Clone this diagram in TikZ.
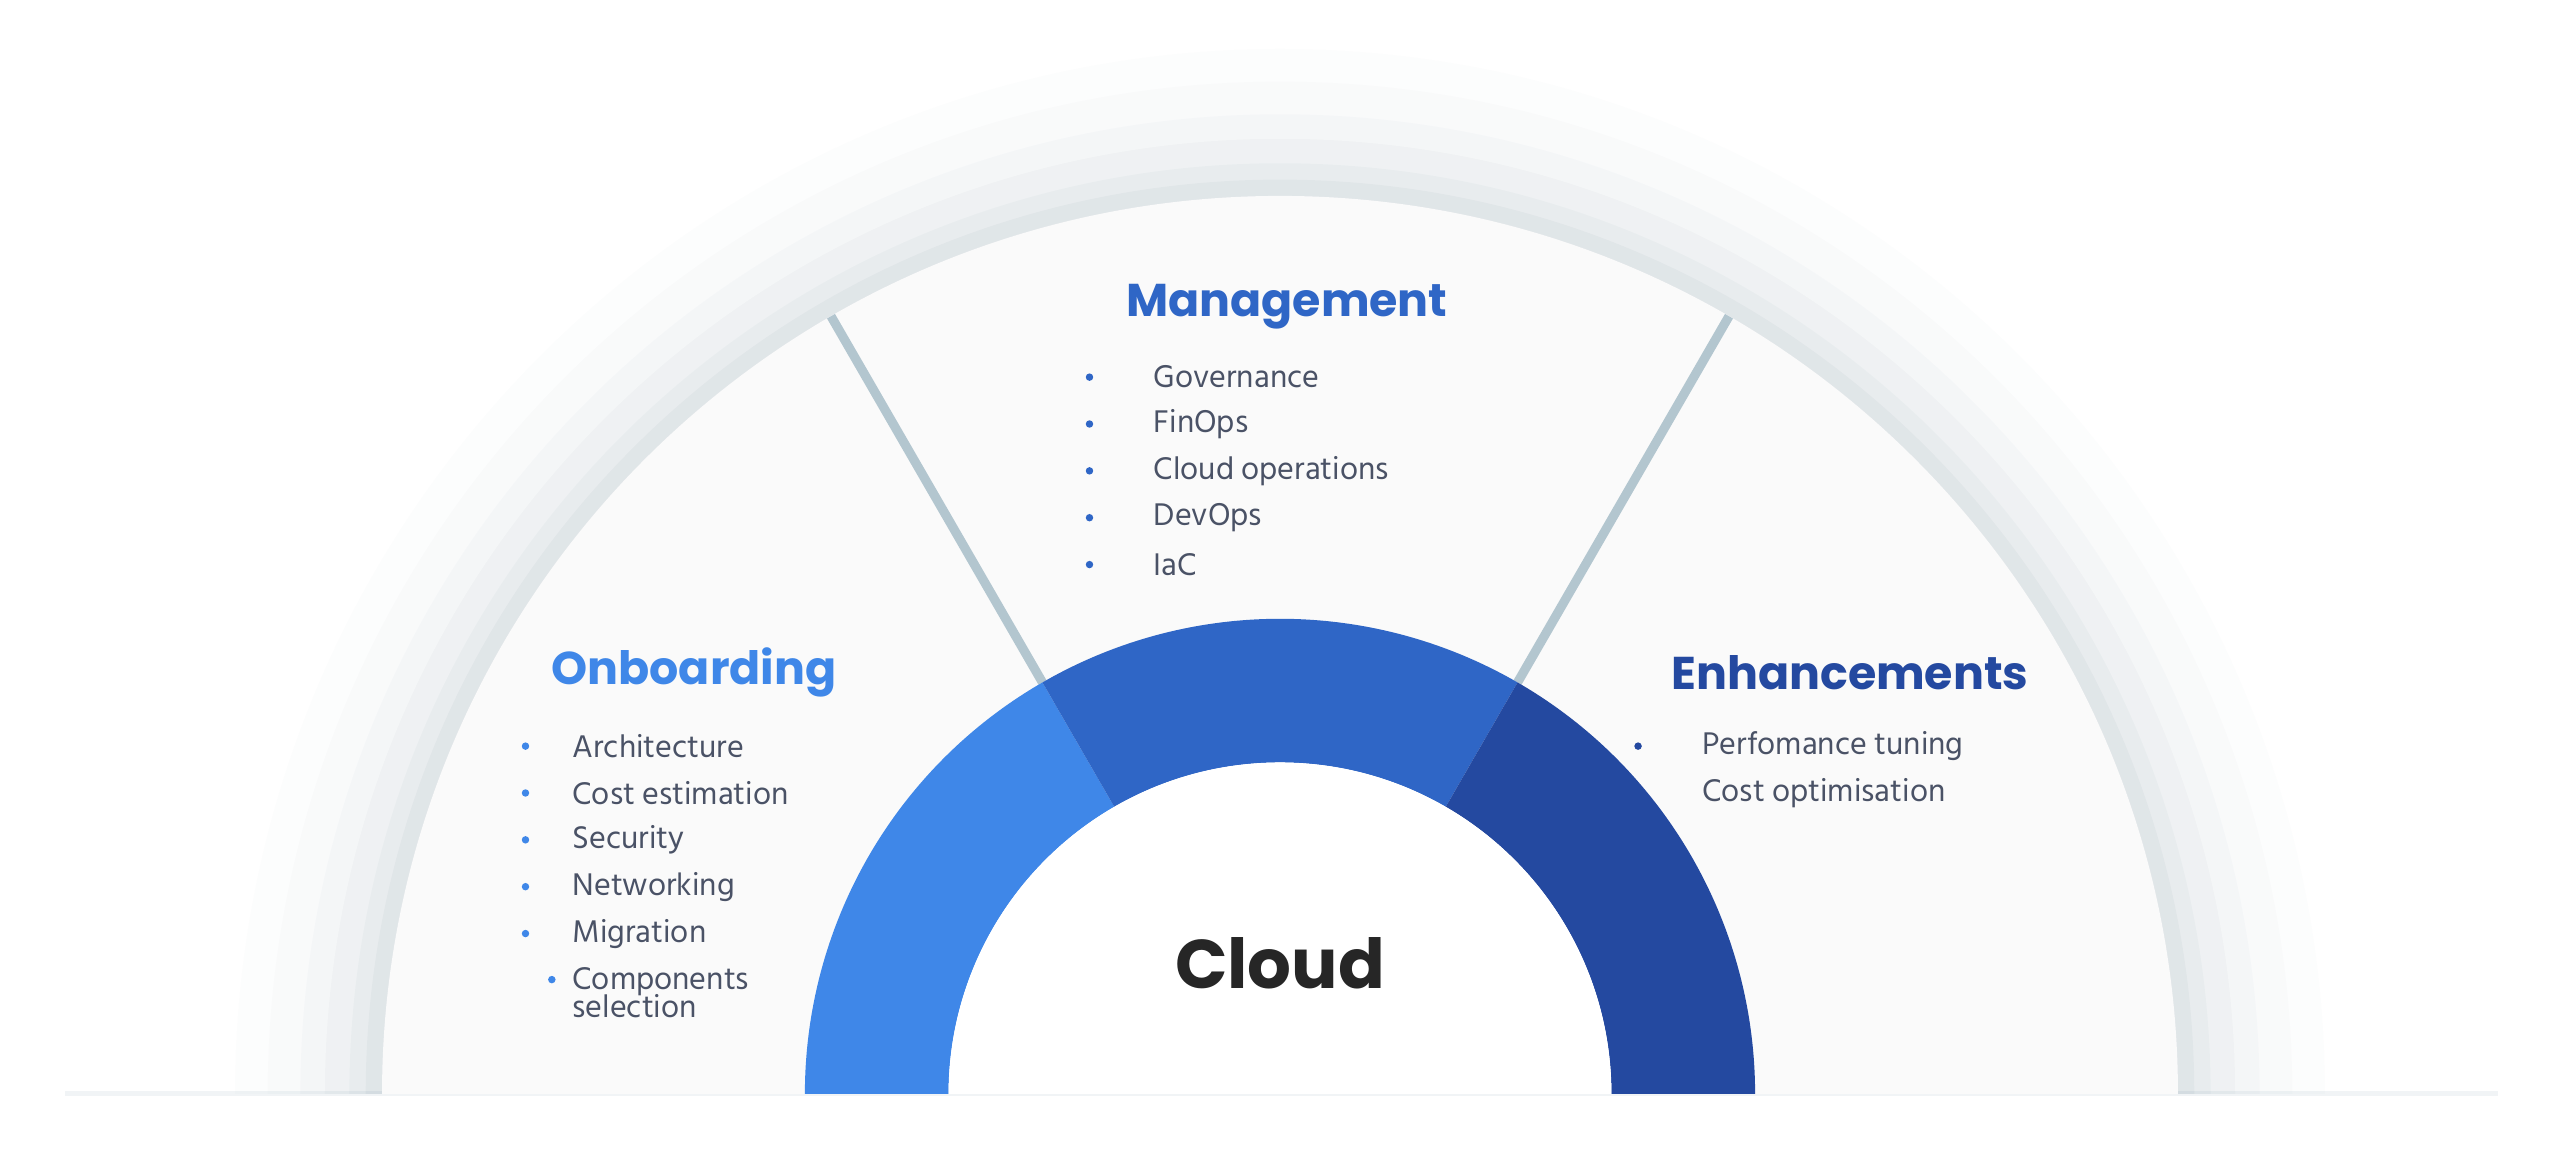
\documentclass[tikz,border=0pt]{standalone}
\usepackage{fontspec}
\setmainfont{Hind Siliguri}
\newfontfamily\headfont{Poppins}
\usetikzlibrary{positioning,calc}

\definecolor{onbblue}{HTML}{3F87E8}
\definecolor{mgtblue}{HTML}{2F66C6}
\definecolor{enhblue}{HTML}{2449A0}
\definecolor{itemgray}{HTML}{4A5266}
\definecolor{dividergray}{HTML}{B3C6CF}
\definecolor{panelwhite}{HTML}{FAFAFA}

\tikzset{
  heading/.style={font=\headfont\bfseries\fontsize{8}{9}\selectfont, anchor=west, inner sep=0pt},
  item/.style={font=\fontsize{5.6}{6.4}\selectfont, text=itemgray, anchor=west, inner sep=0pt, align=left},
  dot/.style={circle, inner sep=0pt, minimum size=1.3pt},
}

\begin{document}
\begin{tikzpicture}[x=0.01cm,y=0.01cm]
        \useasboundingbox (0,0) rectangle (1568,711);
        \coordinate (centre) at (784,41);

            % soft glow around the half disc
            \foreach \r/\o in {640/0.015,620/0.02,600/0.025,585/0.03,570/0.04,560/0.05}
              \fill[black!60!cyan, opacity=\o] ($(centre)+(-\r,0)$) arc (180:0:\r) -- cycle;
            \fill[black!50!cyan, opacity=0.08] (40,40) rectangle (1530,43);

            % panel
            \fill[panelwhite] ($(centre)+(-550,0)$) arc (180:0:550) -- cycle;
            \draw[dividergray, line width=1.6pt] ($(centre)+(120:291)$) -- ($(centre)+(120:550)$);
            \draw[dividergray, line width=1.6pt] ($(centre)+(60:291)$) -- ($(centre)+(60:550)$);

            % ring
            \fill[onbblue] ($(centre)+(180:291)$) arc (180:120:291) -- ($(centre)+(120:203)$) arc (120:180:203) -- cycle;
            \fill[mgtblue] ($(centre)+(120:291)$) arc (120:60:291) -- ($(centre)+(60:203)$) arc (60:120:203) -- cycle;
            \fill[enhblue] ($(centre)+(60:291)$) arc (60:0:291) -- ($(centre)+(0:203)$) arc (0:60:203) -- cycle;
            \fill[white] ($(centre)+(-203,0)$) arc (180:0:203) -- cycle;

            \node[font=\headfont\bfseries\fontsize{12}{14}\selectfont, text=black!85] (cloud) at (784,121) {Cloud};

            % management
            \node[heading, text=mgtblue] (mgt) at (689,523) {Management};
            \foreach \t [count=\i] in {Governance,FinOps,Cloud operations,DevOps,IaC}{
              \node[item] (mgt\i) at (706,480-28.7*\i+28.7) {\t};
              \node[dot, fill=mgtblue, left=11pt of mgt\i.west, anchor=center] {};
            }

            % onboarding
            \node[heading, text=onbblue] (onb) at (337,299) {Onboarding};
            \foreach \t [count=\i] in {Architecture,Cost estimation,Security,Networking,Migration}{
              \node[item] (onb\i) at (350,254-28.7*\i+28.7) {\t};
              \node[dot, fill=onbblue, left=8pt of onb\i.west, anchor=center] {};
            }
            \node[item, anchor=north west] (onb6) at (350,119) {Components\\[-1.5pt]selection};
            \node[dot, fill=onbblue] at (338,111) {};

            % enhancements
            \node[heading, text=enhblue] (enh) at (1023,299) {Enhancements};
            \foreach \t [count=\i] in {Perfomance tuning,Cost optimisation}{
              \node[item] (enh\i) at (1042,254-28.7*\i+28.7) {\t};
              \node[dot, fill=enhblue, left=11pt of enh\i.west, anchor=center] {};
            }
\end{tikzpicture}
\end{document}
